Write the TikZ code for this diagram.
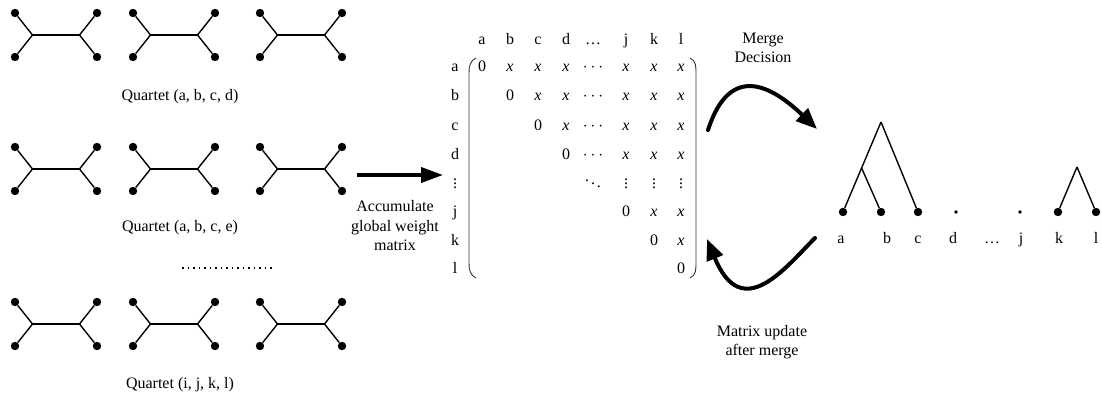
\documentclass[tikz,border=0pt]{standalone}
\usepackage{fontspec}
\setmainfont{Liberation Serif}
\usetikzlibrary{arrows.meta}

% one unrooted quartet tree: #1 name, (#2,#3) upper-left leaf
\newcommand{\quartettree}[3]{%
  \node[leaf] (#1-ul) at (#2,#3) {};
  \node[leaf] (#1-ll) at (#2,#3+44) {};
  \node[leaf] (#1-ur) at (#2+82,#3) {};
  \node[leaf] (#1-lr) at (#2+82,#3+44) {};
  \coordinate (#1-jl) at (#2+17.5,#3+22);
  \coordinate (#1-jr) at (#2+64.5,#3+22);
  \draw[edge] (#1-ul) -- (#1-jl) -- (#1-ll);
  \draw[edge] (#1-jl) -- (#1-jr);
  \draw[edge] (#1-ur) -- (#1-jr) -- (#1-lr);
}
% matrix symbols
\newcommand{\wx}{\textit{x}}
\newcommand{\hd}{$\cdots$}
\newcommand{\vd}{\smash{$\vdots$}}

\begin{document}
\begin{tikzpicture}[x=1pt,y=-1pt,
  leaf/.style={circle,fill=black,inner sep=0pt,minimum size=8.4pt},
  smalldot/.style={circle,fill=black,inner sep=0pt,minimum size=3.8pt},
  edge/.style={line width=1.4pt},
  txt/.style={font=\fontsize{16}{19.5}\selectfont,inner sep=0pt,align=center},
  cell/.style={font=\fontsize{16}{18}\selectfont,inner sep=0pt,anchor=base},
  paren/.style={line width=0.9pt,draw=black!80},
  bigarrow/.style={line width=3.8pt,-{Triangle[length=22pt,width=15pt]}},
  curvearrow/.style={line width=4pt,line cap=round,-{Triangle[length=21pt,width=17pt]}},
  dotrow/.style={line width=1.6pt,dash pattern=on 1.6pt off 3.9pt}]

\useasboundingbox (0,0) rectangle (1102,401);

% quartet trees, three per row
\quartettree{q1a}{15}{13}
\quartettree{q1b}{133}{13}
\quartettree{q1c}{260}{13}
\node[txt] (cap1) at (180,97) {Quartet (a, b, c, d)};

\quartettree{q2a}{15}{147}
\quartettree{q2b}{133}{147}
\quartettree{q2c}{260}{147}
\node[txt] (cap2) at (180,228) {Quartet (a, b, c, e)};

\coordinate (dl) at (182,268);
\coordinate (dr) at (272,268);
\draw[dotrow] (dl) -- (dr);

\quartettree{q3a}{15}{302}
\quartettree{q3b}{133}{302}
\quartettree{q3c}{260}{302}
\node[txt] (cap3) at (180,385) {Quartet (i, j, k, l)};

% accumulation arrow
\coordinate (acc-s) at (357,175);
\coordinate (acc-e) at (443,175);
\draw[bigarrow] (acc-s) -- (acc-e);
\node[txt] (acc) at (395,226) {Accumulate\\global weight\\matrix};

% weight matrix: column and row labels
\foreach \n/\x in {a/482,b/510,c/538,d/566,\ldots/593,j/626,k/654,l/681}
  \node[cell] at (\x,45) {\n};
\foreach \n/\y in {a/72,b/101,c/130,d/159,\vd/188,j/216,k/245,l/273}
  \node[cell] at (455,\y) {\n};

% matrix entries (upper triangle)
\foreach \x/\s in {482/0,510/\wx,538/\wx,566/\wx,593/\hd,626/\wx,654/\wx,681/\wx}
  \node[cell] at (\x,72) {\s};
\foreach \x/\s in {510/0,538/\wx,566/\wx,593/\hd,626/\wx,654/\wx,681/\wx}
  \node[cell] at (\x,101) {\s};
\foreach \x/\s in {538/0,566/\wx,593/\hd,626/\wx,654/\wx,681/\wx}
  \node[cell] at (\x,130) {\s};
\foreach \x/\s in {566/0,593/\hd,626/\wx,654/\wx,681/\wx}
  \node[cell] at (\x,159) {\s};
\node[cell] at (593,188) {\smash{$\ddots$}};
\foreach \x in {626,654,681}
  \node[cell] at (\x,188) {\vd};
\foreach \x/\s in {626/0,654/\wx,681/\wx}
  \node[cell] at (\x,216) {\s};
\foreach \x/\s in {654/0,681/\wx}
  \node[cell] at (\x,245) {\s};
\node[cell] at (681,273) {0};

% matrix delimiters
\draw[paren] (476,58) .. controls (470,61) and (469,66) .. (469,74)
  -- (469,262) .. controls (469,270) and (470,275) .. (476,278);
\draw[paren] (690,58) .. controls (696,61) and (696,66) .. (696,74)
  -- (696,262) .. controls (696,270) and (696,275) .. (690,278);

% merge decision / matrix update arrows
\coordinate (md-s) at (708,130);
\coordinate (md-e) at (817,129);
\draw[curvearrow] (md-s) .. controls (730,62) and (772,86) .. (md-e);
\node[txt] (md) at (763,48) {Merge\\Decision};

\coordinate (mu-s) at (815,238);
\coordinate (mu-e) at (707,239);
\draw[curvearrow] (mu-s) .. controls (785,268) and (742,324) .. (mu-e);
\node[txt] (mu) at (762,342) {Matrix update\\after merge};

% partially merged tree
\node[leaf] (ta) at (843,212) {};
\node[leaf] (tb) at (881,212) {};
\node[leaf] (tc) at (918,212) {};
\node[smalldot] (td) at (956,212) {};
\node[smalldot] (tj) at (1020,212) {};
\node[leaf] (tk) at (1058,212) {};
\node[leaf] (tl) at (1096,212) {};
\coordinate (root) at (881,122);
\coordinate (ab) at (861.6,168);
\coordinate (kl) at (1077,167);
\draw[edge] (root) -- (ab) -- (ta);
\draw[edge] (ab) -- (tb);
\draw[edge] (root) -- (tc);
\draw[edge] (kl) -- (tk);
\draw[edge] (kl) -- (tl);

\foreach \n/\x in {a/841,b/887,c/918,d/953,\ldots/992,j/1021,k/1059,l/1096}
  \node[cell] at (\x,243) {\n};

\end{tikzpicture}
\end{document}
